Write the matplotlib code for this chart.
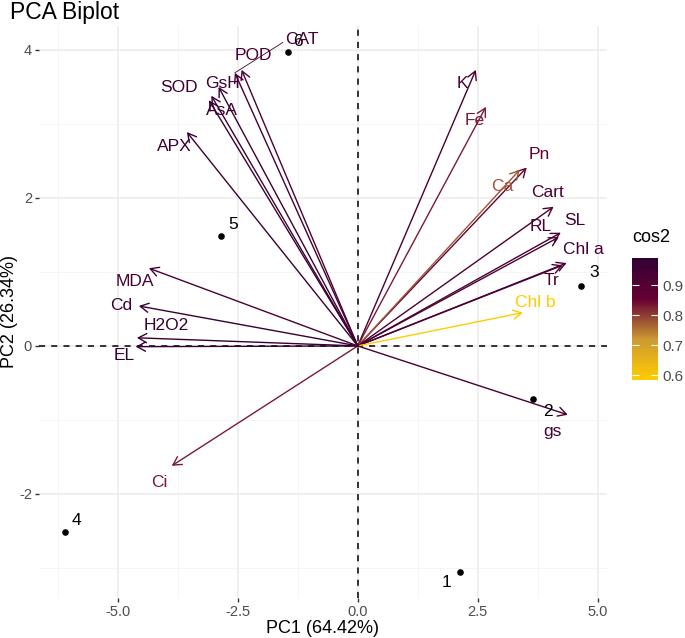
import matplotlib
matplotlib.use("Agg")
import matplotlib.pyplot as plt
from matplotlib.colors import LinearSegmentedColormap, Normalize
from matplotlib.ticker import MultipleLocator, FormatStrFormatter

plt.rcParams['font.family'] = ['Liberation Sans', 'DejaVu Sans']

# variables (arrow tips on PC1 / PC2) and their cos2
var_names = ['K', 'Fe', 'Pn', 'Ca', 'Cart', 'SL', 'RL', 'Chl a', 'Tr', 'Chl b', 'gs',
             'Ci', 'EL', 'H2O2', 'Cd', 'MDA', 'APX', 'SOD', 'AsA', 'GsH', 'POD', 'CAT']
var_pc1 = [2.46, 2.67, 3.52, 3.375, 4.08, 4.23, 4.19, 4.35, 4.27, 3.44, 4.375,
           -3.875, -4.625, -4.6, -4.56, -4.35, -3.56, -3.1, -3.05, -2.9, -2.42, -2.56]
var_pc2 = [3.73, 3.23, 2.41, 2.38, 1.88, 1.53, 1.47, 1.12, 1.09, 0.45, -0.93,
           -1.62, -0.01, 0.11, 0.54, 1.05, 2.89, 3.32, 3.38, 3.5, 3.73, 3.69]
var_cos2 = [0.93, 0.83, 0.86, 0.78, 0.92, 0.94, 0.92, 0.95, 0.92, 0.583, 0.93,
            0.83, 0.99, 0.98, 0.97, 0.93, 0.97, 0.97, 0.96, 0.96, 0.92, 0.94]

# individuals
ind_names = ['1', '2', '3', '4', '5', '6']
ind_pc1 = [2.12, 3.65, 4.65, -6.1, -2.85, -1.46]
ind_pc2 = [-3.05, -0.72, 0.81, -2.51, 1.49, 3.97]

# where the (repelled) labels sit
var_label_pos = {
    'K': (2.17, 3.55), 'Fe': (2.44, 3.04), 'Pn': (3.79, 2.58), 'Ca': (3.0, 2.15),
    'Cart': (3.96, 2.07), 'SL': (4.52, 1.70), 'RL': (3.81, 1.62), 'Chl a': (4.69, 1.30),
    'Tr': (4.04, 0.89), 'Chl b': (3.69, 0.59), 'gs': (4.06, -1.15), 'Ci': (-4.125, -1.84),
    'EL': (-4.875, -0.135), 'H2O2': (-3.98, 0.28), 'Cd': (-4.92, 0.54), 'MDA': (-4.65, 0.865),
    'APX': (-3.83, 2.69), 'SOD': (-3.73, 3.49), 'AsA': (-2.83, 3.18), 'GsH': (-2.81, 3.55),
    'POD': (-2.17, 3.92), 'CAT': (-1.17, 4.14),
}
ind_label_pos = [(1.85, -3.19), (3.96, -0.88), (4.92, 0.99), (-5.85, -2.36), (-2.6, 1.64), (-1.25, 4.11)]

cmap = LinearSegmentedColormap.from_list('cos2', ["#FFCC00", "#CC9933", "#660033", "#330033"])
norm = Normalize(vmin=min(var_cos2), vmax=max(var_cos2))

fig = plt.figure(figsize=(6.85, 6.38), dpi=100)
ax = fig.add_axes([0.0569, 0.0633, 0.8291, 0.8957])

ax.set_xlim(-6.64, 5.19)
ax.set_ylim(-3.4, 4.32)
ax.xaxis.set_major_locator(MultipleLocator(2.5))
ax.xaxis.set_minor_locator(MultipleLocator(1.25))
ax.yaxis.set_major_locator(MultipleLocator(2))
ax.yaxis.set_minor_locator(MultipleLocator(1))
ax.grid(which='major', color='#EBEBEB', lw=1.1)
ax.grid(which='minor', color='#F4F4F4', lw=0.6)
ax.set_axisbelow(True)
for s in ax.spines.values():
    s.set_visible(False)
ax.tick_params(which='major', length=3, width=1, color='#333333', labelcolor='#4D4D4D', labelsize=10.5, pad=2)
ax.tick_params(which='minor', length=0)
ax.xaxis.set_major_formatter(FormatStrFormatter('%.1f'))
ax.yaxis.set_major_formatter(FormatStrFormatter('%d'))

ax.axhline(0, color='black', ls=(0, (4, 4)), lw=1.1, zorder=1)
ax.axvline(0, color='black', ls=(0, (4, 4)), lw=1.1, zorder=1)

# individuals
ax.scatter(ind_pc1, ind_pc2, s=14, color='black', zorder=3)
for name, (lx, ly) in zip(ind_names, ind_label_pos):
    ax.text(lx, ly, name, fontsize=12.5, ha='center', va='center', color='black')

# variable arrows
for name, x, y, c in zip(var_names, var_pc1, var_pc2, var_cos2):
    col = cmap(norm(c))
    ax.annotate('', xy=(x, y), xytext=(0, 0),
                arrowprops=dict(arrowstyle='->,head_length=0.6,head_width=0.33',
                                color=col, lw=1.0, shrinkA=0, shrinkB=0, mutation_scale=10),
                zorder=2)
    lx, ly = var_label_pos[name]
    ax.text(lx, ly, name, fontsize=12.5, ha='center', va='center', color=col, zorder=4)

# repel segment for CAT label
ci = var_names.index('CAT')
ax.plot([var_pc1[ci], -1.56], [var_pc2[ci], 4.1], color=cmap(norm(var_cos2[ci])), lw=0.6)

ax.set_xlabel('PC1 (64.42%)', fontsize=13, labelpad=1)
ax.set_ylabel('PC2 (26.34%)', fontsize=13, labelpad=1)
fig.text(0.015, 0.998, 'PCA Biplot', fontsize=16.5, ha='left', va='top')

# colour bar
cax = fig.add_axes([0.9226, 0.404, 0.038, 0.191])
sm = matplotlib.cm.ScalarMappable(norm=norm, cmap=cmap)
cb = fig.colorbar(sm, cax=cax, ticks=[0.6, 0.7, 0.8, 0.9])
cb.outline.set_visible(False)
cb.ax.tick_params(length=5, width=0.8, color='white', direction='in', labelcolor='#4D4D4D',
                  labelsize=11, left=True, pad=3)
cb.ax.yaxis.set_major_formatter(FormatStrFormatter('%.1f'))
fig.text(0.9226, 0.615, 'cos2', fontsize=13, ha='left', va='bottom')

fig.savefig('out.png', dpi=100)
